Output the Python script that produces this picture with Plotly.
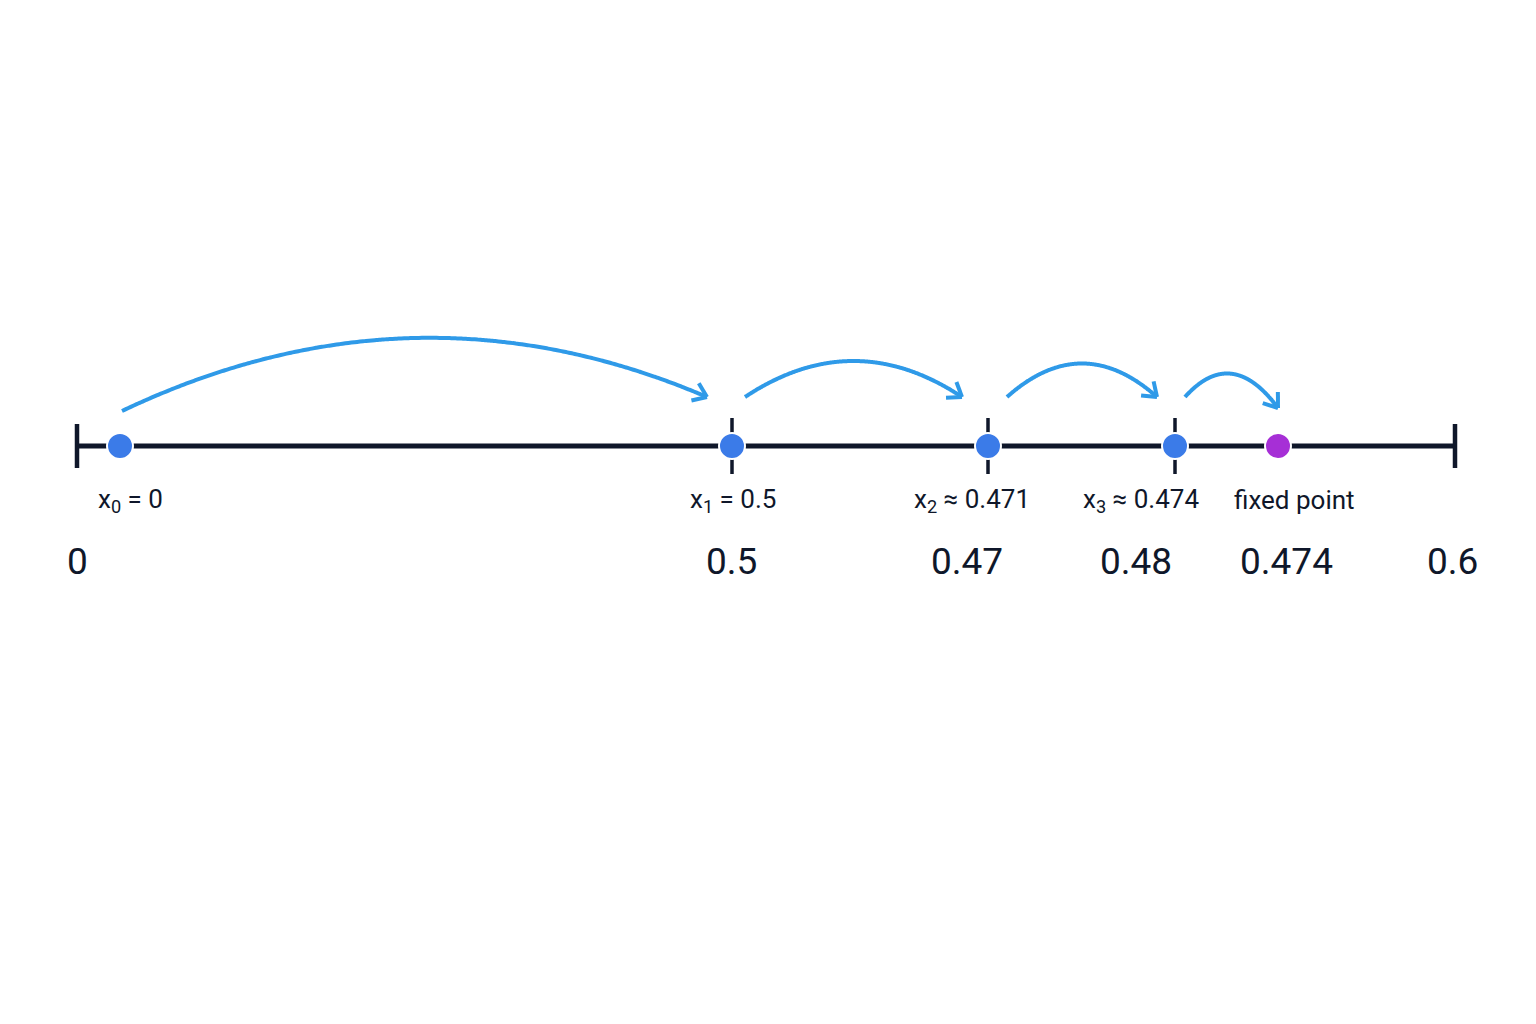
import numpy as np
import plotly.graph_objects as go

# schematic positions along the number line (pixel space of the drawing)
point_pos = [120, 732, 988, 1175]
fixed_pos = 1278
point_labels = ["x<sub>0</sub> = 0", "x<sub>1</sub> = 0.5", "x<sub>2</sub> ≈ 0.471", "x<sub>3</sub> ≈ 0.474", "fixed point"]
label_pos = [130, 733, 972, 1141, 1294]
tick_pos = [77, 731, 967, 1136, 1286, 1452]
tick_text = ["0", "0.5", "0.47", "0.48", "0.474", "0.6"]
minor_ticks = [732, 988, 1175]
line_start, line_end = 77, 1455
arc_start = [(122, 411), (745, 397), (1007, 397), (1185, 397)]
arc_end = [(707, 397), (962, 397), (1157, 397), (1278, 408)]
arc_ctrl_y = [272, 325, 330, 345]

BASE = 446
DARK = "#0f172a"
BLUE = "#3b7be8"
ARC = "#2f9ae8"

fig = go.Figure()
fig.add_trace(go.Scatter(x=[line_start, line_end], y=[BASE, BASE], mode="lines",
                         line=dict(color=DARK, width=5), hoverinfo="skip"))
for xe in [line_start, line_end]:
    fig.add_trace(go.Scatter(x=[xe, xe], y=[424, 468], mode="lines",
                             line=dict(color=DARK, width=4.5), hoverinfo="skip"))
for xt in minor_ticks:
    fig.add_trace(go.Scatter(x=[xt, xt], y=[418, 474], mode="lines",
                             line=dict(color=DARK, width=3.5), hoverinfo="skip"))

for (x0, y0), (x1, y1), cy in zip(arc_start, arc_end, arc_ctrl_y):
    cx = (x0 + x1) / 2
    t = np.linspace(0, 1, 200)
    bx = (1 - t) ** 2 * x0 + 2 * (1 - t) * t * cx + t ** 2 * x1
    by = (1 - t) ** 2 * y0 + 2 * (1 - t) * t * cy + t ** 2 * y1
    fig.add_trace(go.Scatter(x=bx, y=by, mode="lines", line=dict(color=ARC, width=4, shape="spline"),
                             hoverinfo="skip"))
    dx, dy = x1 - cx, y1 - cy
    n = np.hypot(dx, dy)
    dx, dy = dx / n, dy / n
    L = 16
    for ang in [np.pi / 5, -np.pi / 5]:
        c, s = np.cos(ang), np.sin(ang)
        rx = -(dx * c - dy * s)
        ry = -(dx * s + dy * c)
        fig.add_trace(go.Scatter(x=[x1, x1 + L * rx], y=[y1, y1 + L * ry], mode="lines",
                                 line=dict(color=ARC, width=4), hoverinfo="skip"))

fig.add_trace(go.Scatter(x=point_pos, y=[BASE] * len(point_pos), mode="markers",
                         marker=dict(size=26, color=BLUE, line=dict(color="white", width=2)),
                         hoverinfo="skip"))
fig.add_trace(go.Scatter(x=[fixed_pos], y=[BASE], mode="markers",
                         marker=dict(size=26, color="#a62fd6", line=dict(color="white", width=2)),
                         hoverinfo="skip"))

for lx, lt in zip(label_pos, point_labels):
    fig.add_annotation(x=lx, y=500, text=lt, showarrow=False,
                       font=dict(size=26, color=DARK, family="Roboto"))
for tx, tt in zip(tick_pos, tick_text):
    fig.add_annotation(x=tx, y=561, text=tt, showarrow=False,
                       font=dict(size=37, color=DARK, family="Roboto"))

fig.update_layout(width=1536, height=1024, margin=dict(l=0, r=0, t=0, b=0),
                  paper_bgcolor="white", plot_bgcolor="white", showlegend=False,
                  xaxis=dict(range=[8, 1544], visible=False, fixedrange=True),
                  yaxis=dict(range=[1032, 8], visible=False, fixedrange=True))
fig.write_html("out.html")
